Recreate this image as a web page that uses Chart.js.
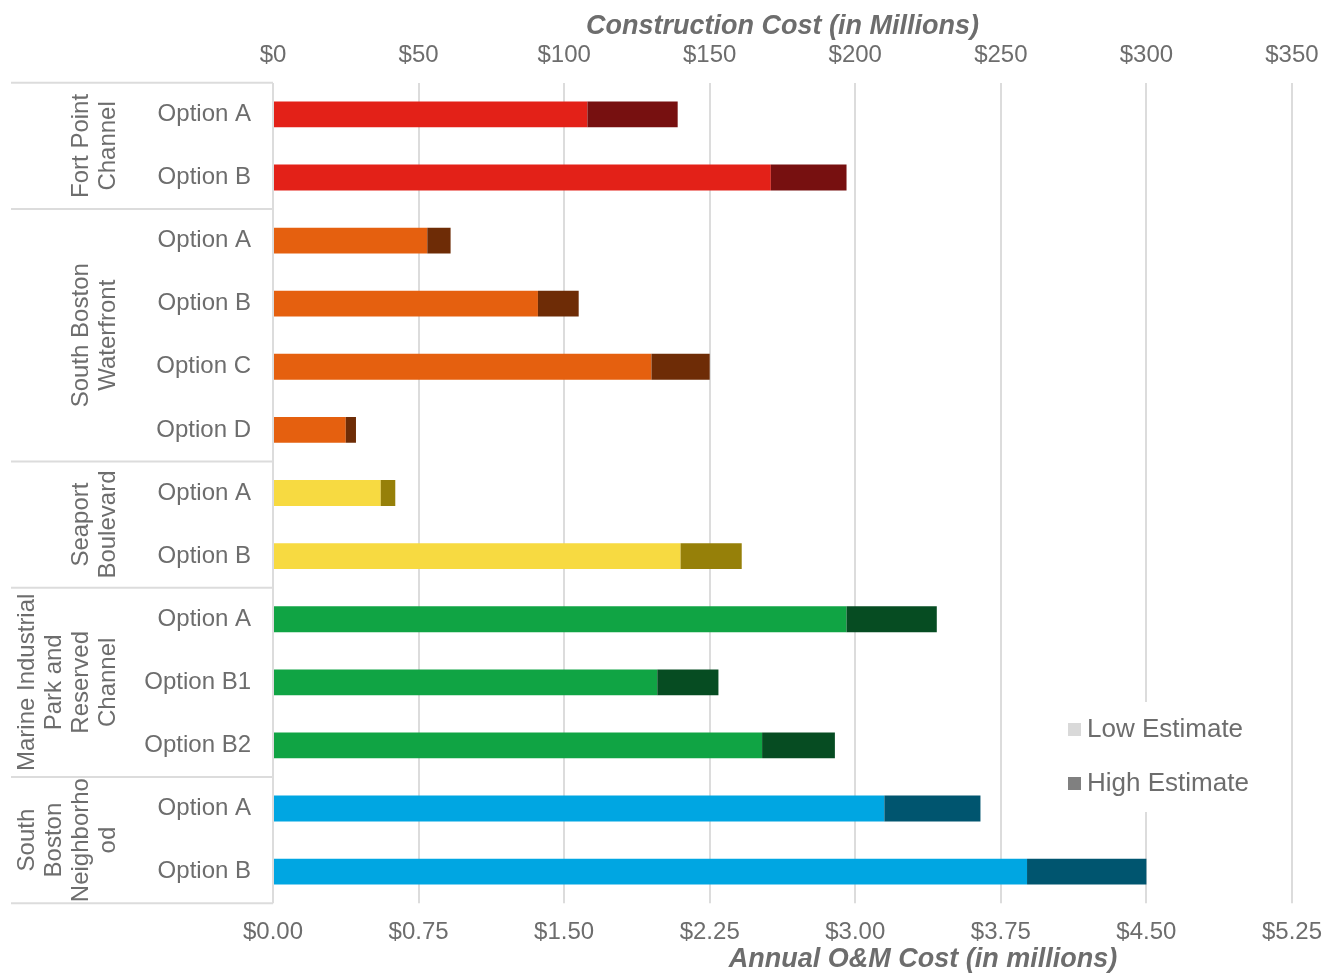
<!DOCTYPE html>
<html>
<head>
<meta charset="utf-8">
<title>Construction and O&amp;M Cost by Option</title>
<script src="https://cdn.jsdelivr.net/npm/chart.js@4"></script>
<style>
  html, body { margin: 0; padding: 0; background: #fff; }
  #wrap { width: 1337px; height: 973px; }
</style>
</head>
<body>
<div id="wrap"><canvas id="costChart"></canvas></div>
<script>
// Options, grouped by area (group rows are listed in the same order)
const options = ['Option A', 'Option B',
                 'Option A', 'Option B', 'Option C', 'Option D',
                 'Option A', 'Option B',
                 'Option A', 'Option B1', 'Option B2',
                 'Option A', 'Option B'];
const areas = [
    ['Fort Point', 'Channel'],
    ['South Boston', 'Waterfront'],
    ['Seaport', 'Boulevard'],
    ['Marine Industrial', 'Park and', 'Reserved', 'Channel'],
    ['South', 'Boston', 'Neighborho', 'od']
];
const areaSizes = [2, 4, 2, 3, 2];

// Construction cost in $M
const lowEstimate  = [108, 171, 53, 91, 130, 25, 37, 140, 197, 132, 168, 210, 259];
const highEstimate = [139, 197, 61, 105, 150, 28.5, 42, 161, 228, 153, 193, 243, 300];

const costTicks = [0, 50, 100, 150, 200, 250, 300, 350];
const omTicks = [0, 0.75, 1.5, 2.25, 3, 3.75, 4.5, 5.25];

// colours per area: light = low estimate, dark = high estimate portion
const lightColors = ['#e32118', '#e5600f', '#f7da41', '#10a444', '#00a6e2'];
const darkColors  = ['#771010', '#6e2c06', '#968009', '#064c22', '#00556f'];

function perBar(colors) {
    const out = [];
    areaSizes.forEach((n, g) => { for (let i = 0; i < n; i++) out.push(colors[g]); });
    return out;
}

const textColor = '#6d6d6d';
const gridColor = '#dcdcdc';
const fontFamily = '"Liberation Sans", Arial, sans-serif';

// group labels, separator lines, axis titles and legend
const extras = {
    id: 'extras',
    afterDraw(chart) {
        const ctx = chart.ctx;
        const area = chart.chartArea;
        const y = chart.scales.y;
        ctx.save();

        // horizontal rules between areas
        const bounds = [area.top];
        let idx = 0;
        areaSizes.forEach((n, g) => {
            idx += n;
            if (g < areaSizes.length - 1) {
                bounds.push((y.getPixelForValue(idx - 1) + y.getPixelForValue(idx)) / 2);
            }
        });
        bounds.push(area.bottom);
        ctx.strokeStyle = gridColor;
        ctx.lineWidth = 2;
        bounds.forEach(b => {
            ctx.beginPath();
            ctx.moveTo(11, b);
            ctx.lineTo(area.left, b);
            ctx.stroke();
        });

        // rotated area names, last line closest to the option labels
        ctx.fillStyle = textColor;
        ctx.font = '24px ' + fontFamily;
        ctx.textAlign = 'center';
        ctx.textBaseline = 'middle';
        areas.forEach((lines, g) => {
            const cy = (bounds[g] + bounds[g + 1]) / 2;
            const n = lines.length;
            lines.forEach((line, k) => {
                const cx = 108 - (n - 1 - k) * 27;
                ctx.save();
                ctx.translate(cx, cy);
                ctx.rotate(-Math.PI / 2);
                ctx.fillText(line, 0, 0);
                ctx.restore();
            });
        });

        // axis titles
        ctx.font = 'italic bold 27px ' + fontFamily;
        ctx.fillText('Construction Cost (in Millions)', (area.left + area.right) / 2, 27);
        ctx.fillText('Annual O&M Cost (in millions)', 923, 960);

        // legend
        ctx.fillStyle = '#fff';
        ctx.fillRect(1060, 702, 210, 110);
        ctx.font = '26px ' + fontFamily;
        ctx.textAlign = 'left';
        ctx.fillStyle = '#d9d9d9';
        ctx.fillRect(1068, 723, 13, 13);
        ctx.fillStyle = '#808080';
        ctx.fillRect(1068, 777, 13, 13);
        ctx.fillStyle = textColor;
        ctx.fillText('Low Estimate', 1087, 730);
        ctx.fillText('High Estimate', 1087, 784);
        ctx.restore();
    }
};

new Chart(document.getElementById('costChart'), {
    type: 'bar',
    data: {
        labels: options,
        datasets: [
            {
                label: 'Low Estimate',
                data: lowEstimate,
                backgroundColor: perBar(lightColors),
                grouped: false,
                order: 2
            },
            {
                label: 'High Estimate',
                data: lowEstimate.map((v, i) => [v, highEstimate[i]]),
                backgroundColor: perBar(darkColors),
                grouped: false,
                order: 1
            }
        ]
    },
    options: {
        indexAxis: 'y',
        responsive: true,
        maintainAspectRatio: false,
        animation: false,
        barPercentage: 0.41,
        categoryPercentage: 1,
        layout: { padding: { top: 28, right: 41, bottom: 11, left: 0 } },
        scales: {
            x: {
                position: 'top',
                min: 0,
                max: 350,
                afterBuildTicks: s => { s.ticks = costTicks.map(v => ({ value: v })); },
                ticks: {
                    color: textColor,
                    font: { family: fontFamily, size: 24 },
                    padding: 13,
                    callback: v => '$' + v
                },
                grid: { color: gridColor, lineWidth: 2, drawTicks: false },
                border: { display: false }
            },
            x2: {
                position: 'bottom',
                axis: 'x',
                min: 0,
                max: 5.25,
                afterBuildTicks: s => { s.ticks = omTicks.map(v => ({ value: v })); },
                ticks: {
                    color: textColor,
                    font: { family: fontFamily, size: 24 },
                    padding: 15,
                    callback: v => '$' + v.toFixed(2)
                },
                grid: { display: false, drawTicks: false },
                border: { display: false }
            },
            y: {
                afterFit: s => { s.width = 273; },
                ticks: {
                    color: textColor,
                    font: { family: fontFamily, size: 24 },
                    padding: 14
                },
                grid: { display: false },
                border: { display: false }
            }
        },
        plugins: {
            legend: { display: false },
            tooltip: { enabled: false }
        }
    },
    plugins: [extras]
});
</script>
</body>
</html>
